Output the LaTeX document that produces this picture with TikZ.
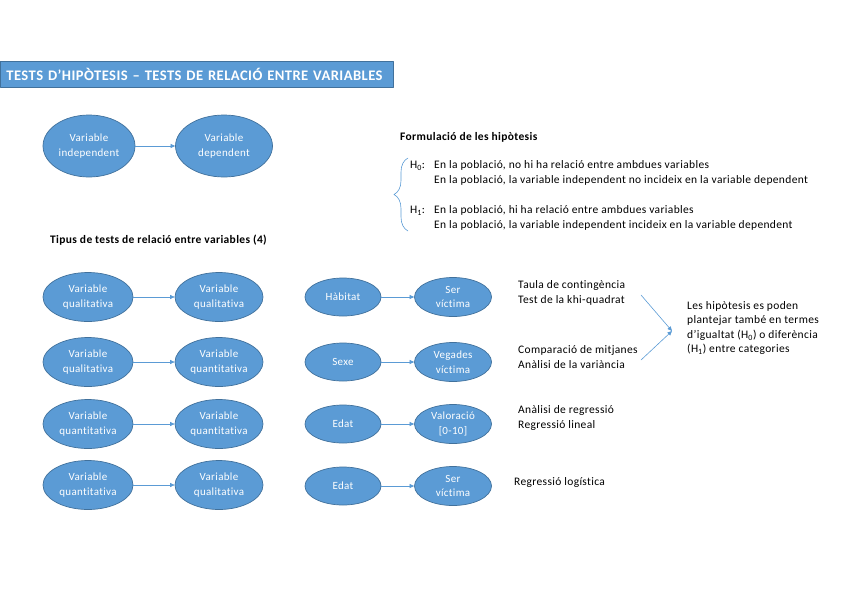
\documentclass[tikz,border=0pt]{standalone}
\usepackage{fontspec}
\setmainfont{Carlito}
\newfontfamily\bodyfont{Carlito}[LetterSpace=3, Ligatures=NoCommon]
\usetikzlibrary{shapes.geometric,arrows.meta,decorations.pathreplacing}
\definecolor{boxblue}{HTML}{5B9BD5}
\definecolor{edgeblue}{HTML}{41719C}
\begin{document}
\begin{tikzpicture}[x=1pt, y=-1pt, line cap=round, line join=round,
	>={Triangle[length=4.5pt,width=4pt]},
	bubble/.style={ellipse, draw=edgeblue, fill=boxblue, line width=0.7pt, text=white,
		align=center, inner sep=0pt, font=\bodyfont\fontsize{11}{14.5}\selectfont},
	arr/.style={->, draw=boxblue, line width=0.6pt},
	txt/.style={anchor=west, align=left, inner sep=0pt, font=\bodyfont\fontsize{11.5}{14.5}\selectfont}]
	
	% Page frame
	\useasboundingbox (0,0) rectangle (848,600);
	
	% Title banner
	\node[anchor=west, draw=edgeblue, fill=boxblue, line width=0.8pt, text=white,
		minimum width=393, minimum height=26, inner xsep=6pt, text width=381,
		font=\bodyfont\fontsize{14.6}{16}\selectfont\bfseries] (title) at (0,74)
		{TESTS D’HIPÒTESIS – TESTS DE RELACIÓ ENTRE VARIABLES};
	
	% Independent -> dependent
	\node[bubble, minimum width=92, minimum height=62] (ind) at (89,146) {Variable\\independent};
	\node[bubble, minimum width=97, minimum height=62] (dep) at (224,146) {Variable\\dependent};
	\draw[arr] (ind) -- (dep);
	
	% Hypotheses
	\node[txt, font=\bodyfont\fontsize{11.5}{14.5}\selectfont\bfseries] (form) at (400,137) {Formulació de les hipòtesis};
	\coordinate (bt) at (408,158);
	\coordinate (bb) at (408,231);
	\draw[boxblue, line width=0.6pt, decorate, decoration={brace, amplitude=14pt}] (bb) -- (bt);
	\node[txt] (h0) at (410,166) {H\textsubscript{0}:};
	\node[txt] (h0t) at (434,173) {En la població, no hi ha relació entre ambdues variables\\
		En la població, la variable independent no incideix en la variable dependent};
	\node[txt] (h1) at (410,211) {H\textsubscript{1}:};
	\node[txt] (h1t) at (434,218) {En la població, hi ha relació entre ambdues variables\\
		En la població, la variable independent incideix en la variable dependent};
	
	% Types of tests
	\node[txt, font=\bodyfont\fontsize{11.5}{14.5}\selectfont\bfseries] (tipus) at (50,240) {Tipus de tests de relació entre variables (4)};
	
	\foreach \y/\a/\b [count=\i] in {297/qualitativa/qualitativa, 362/qualitativa/quantitativa,
		424/quantitativa/quantitativa, 485/quantitativa/qualitativa} {
		\node[bubble, minimum width=90, minimum height=49] (L\i) at (88,\y) {Variable\\\a};
		\node[bubble, minimum width=88, minimum height=49] (R\i) at (219,\y) {Variable\\\b};
		\draw[arr] (L\i) -- (R\i);
	}
	
	% Examples
	\foreach \y/\a/\b [count=\i] in {297/Hàbitat/{Ser\\víctima}, 362/Sexe/{Vegades\\víctima},
		424/Edat/{Valoració\\{[0-10]}}, 486/Edat/{Ser\\víctima}} {
		\node[bubble, minimum width=76, minimum height=38] (M\i) at (343,\y) {\a};
		\node[bubble, minimum width=77, minimum height=39] (N\i) at (453,\y) {\b};
		\draw[arr] (M\i) -- (N\i);
	}
	
	% Tests
	\node[txt] (T1) at (518,293) {Taula de contingència\\Test de la khi-quadrat};
	\node[txt] (T2) at (518,357) {Comparació de mitjanes\\Anàlisi de la variància};
	\node[txt] (T3) at (518,418) {Anàlisi de regressió\\Regressió lineal};
	\node[txt] (T4) at (514,482) {Regressió logística};
	
	% Note on categories
	\coordinate (ua) at (641,295);
	\coordinate (la) at (641,360);
	\coordinate (tip) at (672,331);
	\draw[arr] (ua) -- (tip);
	\draw[arr] (la) -- (tip);
	\node[txt] (note) at (687,328) {Les hipòtesis es poden\\plantejar també en termes\\
		d’igualtat (H\textsubscript{0}) o diferència\\(H\textsubscript{1}) entre categories};
	
\end{tikzpicture}
\end{document}
